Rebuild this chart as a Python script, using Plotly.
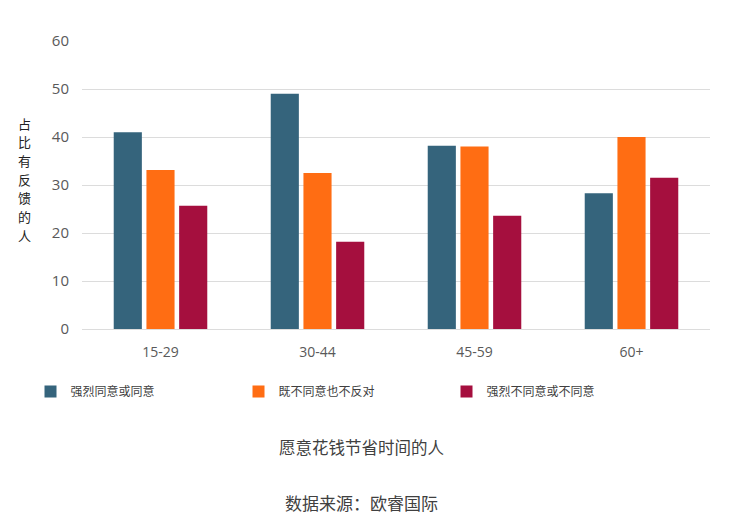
import plotly.graph_objects as go

# age groups and share of respondents (%)
ages = ["15-29", "30-44", "45-59", "60+"]
agree = [41.0, 49.0, 38.2, 28.3]
neutral = [33.1, 32.5, 38.0, 40.0]
disagree = [25.7, 18.2, 23.6, 31.5]

names = ["强烈同意或同意", "既不同意也不反对", "强烈不同意或不同意"]
colors = ["#35647c", "#ff6d13", "#a50f3e"]
ytitle = "占比有反馈的人"

font_cn = "Microsoft YaHei, Noto Sans CJK SC, sans-serif"

fig = go.Figure()
for vals, nm, c in zip([agree, neutral, disagree], names, colors):
    fig.add_trace(go.Bar(x=ages, y=vals, name=nm, marker_color=c, marker_line_width=0))

# page has an 8px body margin, so the figure is sized 722x515
fig.update_layout(
    width=722, height=515,
    margin=dict(l=74, r=20, t=33, b=194),
    plot_bgcolor="white", paper_bgcolor="white",
    barmode="group", bargap=0.375, bargroupgap=0.14,
    font=dict(family=font_cn, color="#595959"),
    legend=dict(orientation="h", x=-0.082, xanchor="left", y=-0.167, yanchor="top",
                font=dict(size=12, color="#404040"), entrywidth=163,
                itemwidth=30, traceorder="normal"),
)
fig.update_yaxes(range=[0, 60], dtick=10, showgrid=True, gridcolor="#dcdcdc", gridwidth=1,
                 zeroline=False, showline=False, ticks="", ticklabelstandoff=12,
                 tickfont=dict(size=15, color="#595959", family="Open Sans, sans-serif"))
fig.update_xaxes(showline=True, linecolor="#dcdcdc", linewidth=1, ticks="", ticklabelstandoff=10,
                 tickfont=dict(size=14, color="#595959", family="Open Sans, sans-serif"))

# vertical axis title, one character per line
for i, ch in enumerate(ytitle):
    py = 123 + i * 18.7
    fig.add_annotation(text=ch, xref="paper", yref="paper",
                       x=-0.091, y=1 - (py - 41) / 288, showarrow=False,
                       xanchor="center", yanchor="middle",
                       font=dict(size=13, color="#222222", family=font_cn))

fig.add_annotation(text="愿意花钱节省时间的人", xref="paper", yref="paper",
                   x=0.445, y=-0.41, showarrow=False, yanchor="middle",
                   font=dict(size=16.5, color="#404040", family=font_cn))
fig.add_annotation(text="数据来源：欧睿国际", xref="paper", yref="paper",
                   x=0.445, y=-0.604, showarrow=False, yanchor="middle",
                   font=dict(size=17, color="#404040", family=font_cn))

fig.write_html("out.html")
